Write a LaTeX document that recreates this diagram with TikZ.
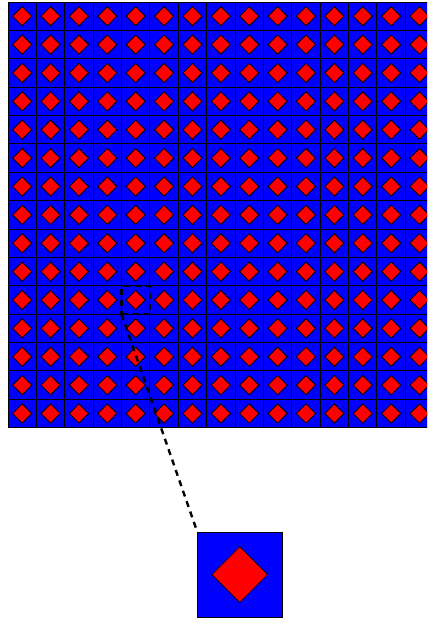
\documentclass[tikz,border=0pt]{standalone}
\usetikzlibrary{shapes.geometric}
\tikzset{
  cellbox/.style={draw=black, fill=blue, line width=0.9bp, minimum size=28.38bp, inner sep=0pt, outer sep=0pt},
  dia/.style={diamond, draw=black, fill=red, line width=0.8bp, minimum width=19.5bp, minimum height=19.5bp, inner sep=0pt},
  bigcell/.style={draw=black, fill=blue, line width=0.6bp, minimum size=85bp, inner sep=0pt, outer sep=0pt},
  bigdia/.style={diamond, draw=black, fill=red, line width=0.6bp, minimum width=56bp, minimum height=56bp, inner sep=0pt},
  zoombox/.style={draw=black, line width=2.6bp, dash pattern=on 6bp off 5bp, minimum size=28.38bp, inner sep=0pt, outer sep=0pt},
  zoomline/.style={draw=black, line width=2.4bp, dash pattern=on 6bp off 5bp}
}
\begin{document}
\begin{tikzpicture}[x=1bp,y=-1bp]
\useasboundingbox (0,0) rectangle (427,618);
\begin{scope}
\clip (0,0) rectangle (427,618);
\foreach \i in {0,...,14} {
  \foreach \j in {0,...,14} {
    \node[cellbox] (c-\i-\j) at ({8+28.38*\i+14.19}, {2+28.38*\j+14.19}) {};
    \node[dia] (d-\i-\j) at (c-\i-\j) {};
  }
}
\end{scope}
\node[zoombox] (zoom) at (c-4-10) {};
\node[bigcell] (mag) at (239.8,574.5) {};
\node[bigdia] (magd) at (mag) {};
\draw[zoomline] (zoom.south west) -- (mag.north west);
\end{tikzpicture}
\end{document}
